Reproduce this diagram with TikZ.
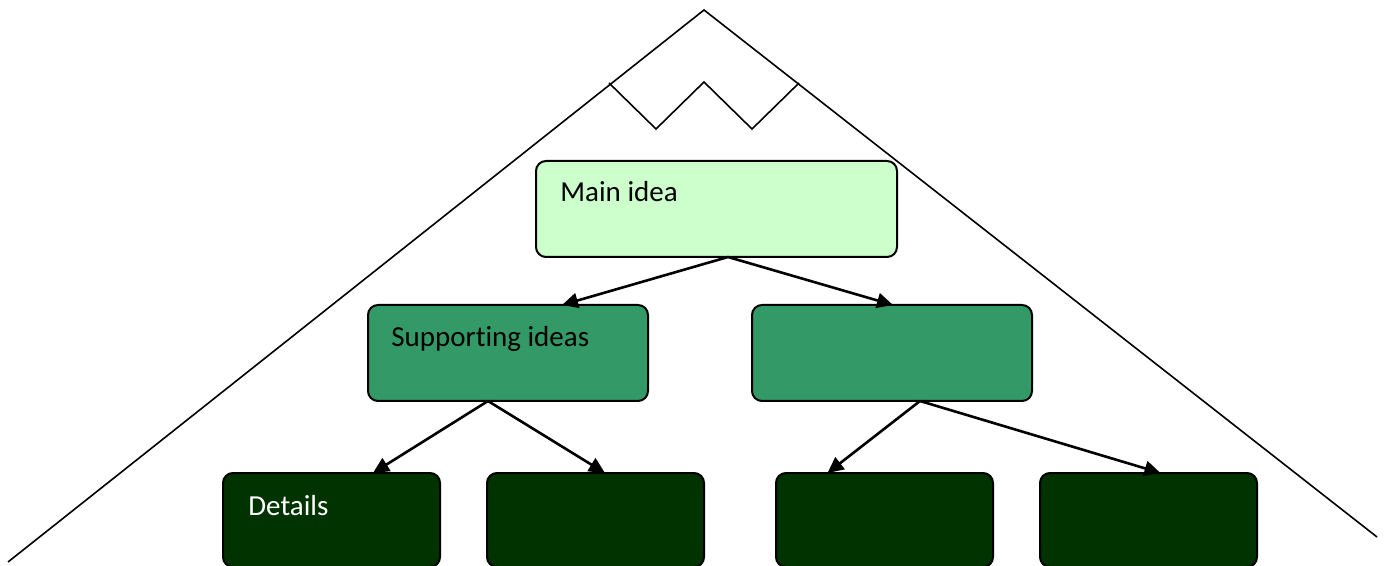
\documentclass[tikz,border=0pt]{standalone}
\usepackage{fontspec}
\setmainfont[Ligatures=NoCommon]{Carlito}
\usetikzlibrary{arrows.meta}

\begin{document}
\begin{tikzpicture}[x=0.5pt,y=-0.5pt,
    box/.style={draw=black,line width=1pt,rounded corners=5pt,inner sep=0pt,outer sep=0pt,anchor=north west},
    link/.style={-{Triangle[length=8pt,width=7.5pt]},line width=1.3pt},
    lbl/.style={anchor=base west,inner sep=0pt,font=\fontsize{14.5}{17}\selectfont}]

    \definecolor{ideaone}{RGB}{204,255,204}
    \definecolor{ideatwo}{RGB}{51,153,102}
    \definecolor{ideathree}{RGB}{0,51,0}

    \useasboundingbox (0,0) rectangle (1386,566);

    % mountain outline
    \draw[line width=0.8pt] (8,562) -- (704,10) -- (1377,537);
    \draw[line width=0.8pt] (609,83) -- (656,129) -- (704,82) -- (752,129) -- (799,83);

    % boxes
    \node[box,fill=ideaone,minimum width=180.5pt,minimum height=48pt] (main) at (536,161) {};
    \node[lbl] (maintxt) at ([xshift=12pt,yshift=-20.5pt]main.north west) {Main idea};

    \node[box,fill=ideatwo,minimum width=140pt,minimum height=48pt] (supl) at (368,305) {};
    \node[box,fill=ideatwo,minimum width=140pt,minimum height=48pt] (supr) at (752,305) {};
    \node[lbl] (suptxt) at ([xshift=11.5pt,yshift=-21pt]supl.north west) {Supporting ideas};

    \foreach \n/\x in {1/223,2/487,3/776,4/1040}
    \node[box,fill=ideathree,minimum width=108.5pt,minimum height=47pt] (det\n) at (\x,473) {};
    \node[lbl,text=white] (dettxt) at ([xshift=12.5pt,yshift=-21pt]det1.north west) {Details};

    % arrows
    \draw[link] ([xshift=5.75pt]main.south) -- ([xshift=27pt]supl.north);
    \draw[link] ([xshift=5.75pt]main.south) -- ([xshift=0.5pt]supr.north);
    \draw[link] ([xshift=-10pt]supl.south) -- ([xshift=20.75pt]det1.north);
    \draw[link] ([xshift=-10pt]supl.south) -- ([xshift=4.75pt]det2.north);
    \draw[link] ([xshift=14pt]supr.south) -- ([xshift=-28.5pt]det3.north);
    \draw[link] ([xshift=14pt]supr.south) -- ([xshift=6pt]det4.north);

\end{tikzpicture}
\end{document}
